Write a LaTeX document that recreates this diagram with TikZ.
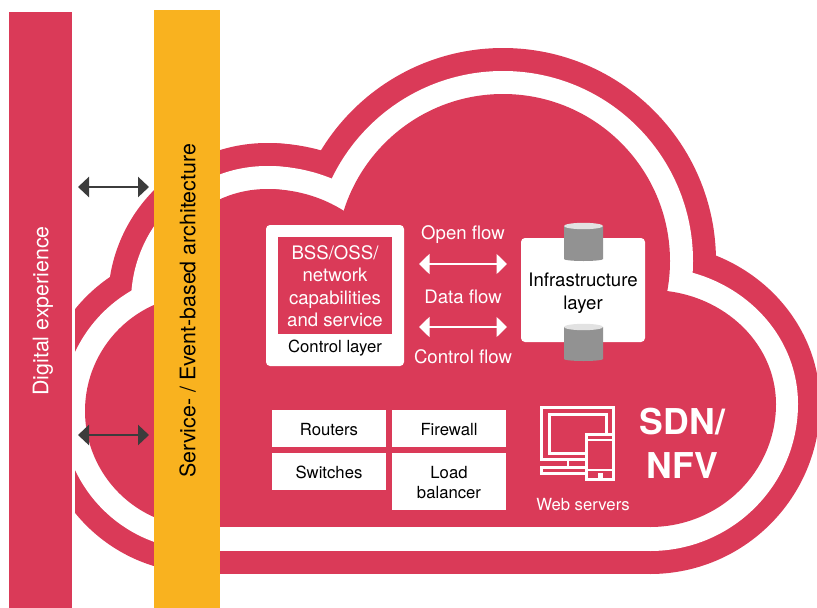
\documentclass[tikz,border=0pt]{standalone}
\usepackage{fontspec}
\setmainfont{TeX Gyre Heros}
\usetikzlibrary{arrows.meta}
\definecolor{cloudred}{HTML}{DA3A58}
\definecolor{baryellow}{HTML}{F9B21F}
\definecolor{arrowdark}{HTML}{3C3C3C}
\definecolor{cylbody}{HTML}{929292}
\definecolor{cyltop}{HTML}{E2E2E2}
\newcommand{\cloudlayer}[9]{%
  % colour, r top, r top-left, r left, rx right, ry right up, ry right down, bottom, rx top-left right half
  \fill[#1] (503,261) circle[radius=#2 pt];
  \fill[#1] (267,302) circle[radius=#3 pt];
  \fill[#1] (267,{302-#3}) arc[start angle=90,end angle=0,x radius=#9 pt,y radius=#3 pt] -- (267,302) -- cycle;
  \fill[#1] (201,411) circle[radius=#4 pt];
  \fill[#1] (201,300) rectangle (650,#8);
  \fill[#1] (650,{404-#6}) arc[start angle=90,end angle=0,x radius=#5 pt,y radius=#6 pt]
     arc[start angle=0,end angle=-90,x radius=#5 pt,y radius=#7 pt] -- cycle;
}
\newcommand{\cyl}[3]{% name, top y, bottom y
  \fill[cylbody] (564,#2+3) -- (564,#3-2) arc[start angle=180,end angle=360,x radius=19.5pt,y radius=2pt] -- (603,#2+3) -- cycle;
  \fill[cyltop] (583.5,#2+3) ellipse[x radius=19.5pt,y radius=3.2pt];
  \coordinate (#1) at (583.5,#2);
}
\newcommand{\lowerstrut}{\rule{0pt}{14.2pt}}
\tikzset{
  lbl/.style={font=\fontsize{18.6}{22}\selectfont,inner sep=0pt,align=center},
  smalllbl/.style={font=\fontsize{16.7}{20}\selectfont,inner sep=0pt,align=center},
  barlbl/.style={font=\fontsize{21.4}{25}\selectfont,inner sep=0pt,rotate=90},
  whitebox/.style={fill=white,inner sep=0pt,minimum width=114pt,text=black},
  darkarrow/.style={{Triangle[length=11pt,width=20pt]}-{Triangle[length=11pt,width=20pt]},arrowdark,line width=2.6pt},
  lightarrow/.style={{Triangle[length=10.5pt,width=20pt]}-{Triangle[length=10.5pt,width=20pt]},white,line width=1.8pt},
  iconline/.style={draw=white,line width=3pt,fill=none},
  bigbold/.style={font=\bfseries\fontsize{35.6}{43}\selectfont,text=white,inner sep=0pt},
}
\begin{document}
\begin{tikzpicture}[x=1pt,y=-1pt]
\useasboundingbox (0,0) rectangle (817,608);
% cloud
\begin{scope}
\clip (75,0) rectangle (817,608);
\cloudlayer{cloudred}{213}{159}{162}{170}{161}{170}{574}{179}
\cloudlayer{white}{190}{136}{139}{148}{137}{147}{551}{154}
\cloudlayer{cloudred}{167}{113}{116}{126}{114}{123}{527}{130}
\end{scope}
% bars
\fill[cloudred] (9,12) rectangle (72,608);
\fill[baryellow] (154,10) rectangle (220,608);
\node[barlbl,text=white] (digital) at (43,311) {Digital experience};
\node[barlbl,text=black] (service) at (187.5,311) {Service- / Event-based architecture};
% dark arrows
\coordinate (a1l) at (78,187); \coordinate (a1r) at (149,187);
\coordinate (a2l) at (78,435); \coordinate (a2r) at (149,435);
\draw[darkarrow] (a1l) -- (a1r);
\draw[darkarrow] (a2l) -- (a2r);
% control box
\fill[white,rounded corners=4pt] (266,225) rectangle (404,366);
\fill[cloudred] (278,237) rectangle (392,334);
\node[lbl,text=white] (bss) at (335,253) {BSS/OSS/};
\node[lbl,text=white] (net) at (335,275) {network};
\node[lbl,text=white] (cap) at (335,299.5) {capabilities};
\node[lbl,text=white] (andserv) at (335,320) {and service};
\node[smalllbl,text=black] (ctrl) at (335,348.5) {Control layer};
% flows
\node[lbl,text=white] (open) at (463,234.5) {Open flow};
\node[lbl,text=white] (data) at (463,297) {Data flow};
\node[lbl,text=white] (cflow) at (463,357) {Control flow};
\coordinate (f1l) at (419,264); \coordinate (f1r) at (507,264);
\coordinate (f2l) at (419,327); \coordinate (f2r) at (507,327);
\draw[lightarrow] (f1l) -- (f1r);
\draw[lightarrow] (f2l) -- (f2r);
% infrastructure
\fill[white,rounded corners=4pt] (521,238) rectangle (645,342);
\cyl{c1}{223}{261}
\cyl{c2}{324}{361}
\node[lbl,text=black] (inf1) at (583,280) {Infrastructure};
\node[lbl,text=black] (inf2) at (583,304.5) {layer};
% boxes
\node[whitebox,minimum height=37pt,smalllbl] (routers) at (329,428.5) {\lowerstrut Routers};
\node[whitebox,minimum height=37pt,smalllbl] (firewall) at (449,428.5) {\lowerstrut Firewall};
\node[whitebox,minimum height=37pt,smalllbl] (switches) at (329,471.5) {\lowerstrut Switches};
\node[whitebox,minimum height=57pt,smalllbl] (load) at (449,481.5) {\lowerstrut Load\\balancer};
% icon
\draw[iconline] (541,407) rectangle (613.5,459.5);
\draw[iconline] (549,414.5) rectangle (606.5,453.5);
\draw[iconline] (541,467.5) rectangle (586,473.5);
\draw[iconline,line width=2.4pt] (568.2,460) -- (568.2,466);
\fill[cloudred] (585,433) rectangle (615,481);
\draw[iconline] (586.5,434.5) rectangle (613.5,479.5);
\draw[iconline,line width=2.4pt] (586,440) -- (614,440);
\draw[iconline,line width=2.4pt] (586,470) -- (614,470);
\fill[white] (597.7,473) rectangle (602.7,478);
\node[smalllbl,text=white] (web) at (583,505) {Web servers};
% sdn
\node[bigbold] (sdn) at (682.5,422) {SDN/};
\node[bigbold] (nfv) at (682.5,465.5) {NFV};
\end{tikzpicture}
\end{document}
